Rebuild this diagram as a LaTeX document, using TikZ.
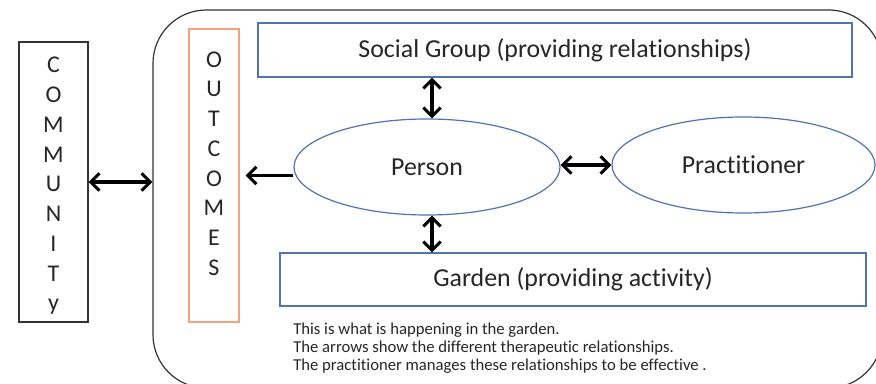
\documentclass[tikz,border=0pt]{standalone}
\usepackage{fontspec}
\setmainfont{Carlito}[RawFeature={-liga;-dlig}]
\usetikzlibrary{arrows.meta,shapes.geometric}
\definecolor{boxblue}{HTML}{5273B2}
\definecolor{boxorange}{HTML}{F4A47A}
\definecolor{edgegray}{HTML}{333333}
\definecolor{textgray}{HTML}{262626}
\begin{document}
\begin{tikzpicture}[x=0.75pt,y=-0.75pt,
  bluebox/.style={draw=boxblue,line width=0.9pt,inner sep=0pt,text=textgray,
    font=\fontsize{19.4}{22}\selectfont},
  blueoval/.style={draw=boxblue,line width=0.9pt,ellipse,inner sep=0pt,text=textgray,
    font=\fontsize{19.4}{22}\selectfont},
  tallbox/.style={line width=0.9pt,inner sep=0pt},
  vletters/.style={align=center,inner sep=0pt,text=textgray,
    font=\fontsize{18}{22.3}\selectfont},
  biarrow/.style={line width=2.3pt,{Straight Barb[length=6.5pt,width=13pt]}-{Straight Barb[length=6.5pt,width=13pt]}},
  onearrow/.style={line width=2.3pt,-{Straight Barb[length=6.5pt,width=13pt]}}]
\useasboundingbox (0,0) rectangle (876,384);
\clip (0,0) rectangle (876,384);
\fill[white] (0,0) rectangle (876,384);

% garden scene: large rounded frame
\node[draw=edgegray,line width=0.9pt,rounded corners=40pt,minimum width=546.75pt,
  minimum height=283.5pt,inner sep=0pt] (scene) at (517.5,199) {};

% community column
\node[tallbox,draw=edgegray,minimum width=51.75pt,minimum height=210pt] (community) at (53.5,182) {};
\node[vletters] (communitytext) at (53.5,186) {C\\O\\M\\M\\U\\N\\I\\T\\y};

% outcomes column
\node[tallbox,draw=boxorange,minimum width=37.5pt,minimum height=219.75pt] (outcomes) at (214,175.5) {};
\node[vletters] (outcomestext) at (214,163.5) {O\\U\\T\\C\\O\\M\\E\\S};

% relationship boxes and people
\node[bluebox,minimum width=445.5pt,minimum height=40.5pt] (social) at (555,50) {Social Group (providing relationships)};
\node[bluebox,minimum width=439.5pt,minimum height=39.75pt] (garden) at (573,279.5) {Garden (providing activity)};
\node[blueoval,minimum width=199.5pt,minimum height=72pt] (person) at (427,167) {Person};
\node[blueoval,minimum width=197.25pt,minimum height=72pt] (practitioner) at (743.5,165) {Practitioner};

% explanatory note
\node[anchor=north west,align=left,inner sep=0pt,text=textgray,
  font=\fontsize{12.5}{13.2}\selectfont] (note) at (293,323)
  {This is what is happening in the garden.\\
   The arrows show the different therapeutic relationships.\\
   The practitioner manages these relationships to be effective .};

% connectors
\draw[biarrow] (community.east) -- (community.east -| scene.west);
\draw[onearrow] (person.west |- outcomes.east) -- ([xshift=4.5pt]outcomes.east);
\draw[biarrow] ([xshift=3.75pt]person.north |- social.south) -- ([xshift=3.75pt]person.north);
\draw[biarrow] ([xshift=3.75pt]person.south) -- ([xshift=3.75pt]person.south |- garden.north);
\draw[biarrow] (person.east |- practitioner.west) -- (practitioner.west);
\end{tikzpicture}
\end{document}
